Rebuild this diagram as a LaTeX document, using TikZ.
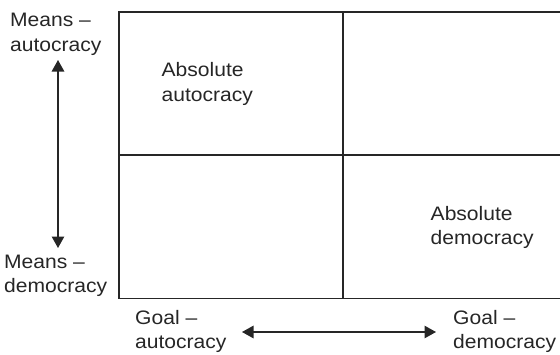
\documentclass[tikz,border=0pt]{standalone}
\usepackage{fontspec}
\setmainfont{Liberation Sans}[FakeStretch=1.08]
\usetikzlibrary{arrows.meta}
\begin{document}
\begin{tikzpicture}[x=1pt,y=-1pt,
  grid/.style={draw=black!85,line width=1.4pt},
  lbl/.style={anchor=north west,inner sep=0pt,align=left,
    font=\fontsize{19.5}{24.5}\selectfont,text=black!85},
  dblarrow/.style={draw=black!85,line width=1.2pt,
    {Triangle[width=12.5pt,length=11.5pt]}-{Triangle[width=12.5pt,length=11.5pt]}}]
  \useasboundingbox (0,0) rectangle (560,354);
  % quadrant frame (open to the right)
  \draw[grid] (570,12) -- (119,12) -- (119,298.5) -- (570,298.5);
  \draw[grid] (343,12) -- (343,298.5);
  \draw[grid] (119,155) -- (570,155);
  % axis labels
  \node[lbl] (ma) at (10,13) {Means –\\autocracy};
  \node[lbl] (md) at (4,254.5) {Means –\\democracy};
  \node[lbl] (ga) at (135,310) {Goal –\\autocracy};
  \node[lbl] (gd) at (453,310) {Goal –\\democracy};
  % quadrant labels
  \node[lbl] (aa) at (161.5,62.5) {Absolute\\autocracy};
  \node[lbl] (ad) at (430.5,206) {Absolute\\democracy};
  % axis arrows
  \coordinate (vtop) at (58,60);
  \coordinate (vbot) at (58,248);
  \coordinate (hleft) at (242,332);
  \coordinate (hright) at (436,332);
  \draw[dblarrow] (vtop) -- (vbot);
  \draw[dblarrow] (hleft) -- (hright);
\end{tikzpicture}
\end{document}
